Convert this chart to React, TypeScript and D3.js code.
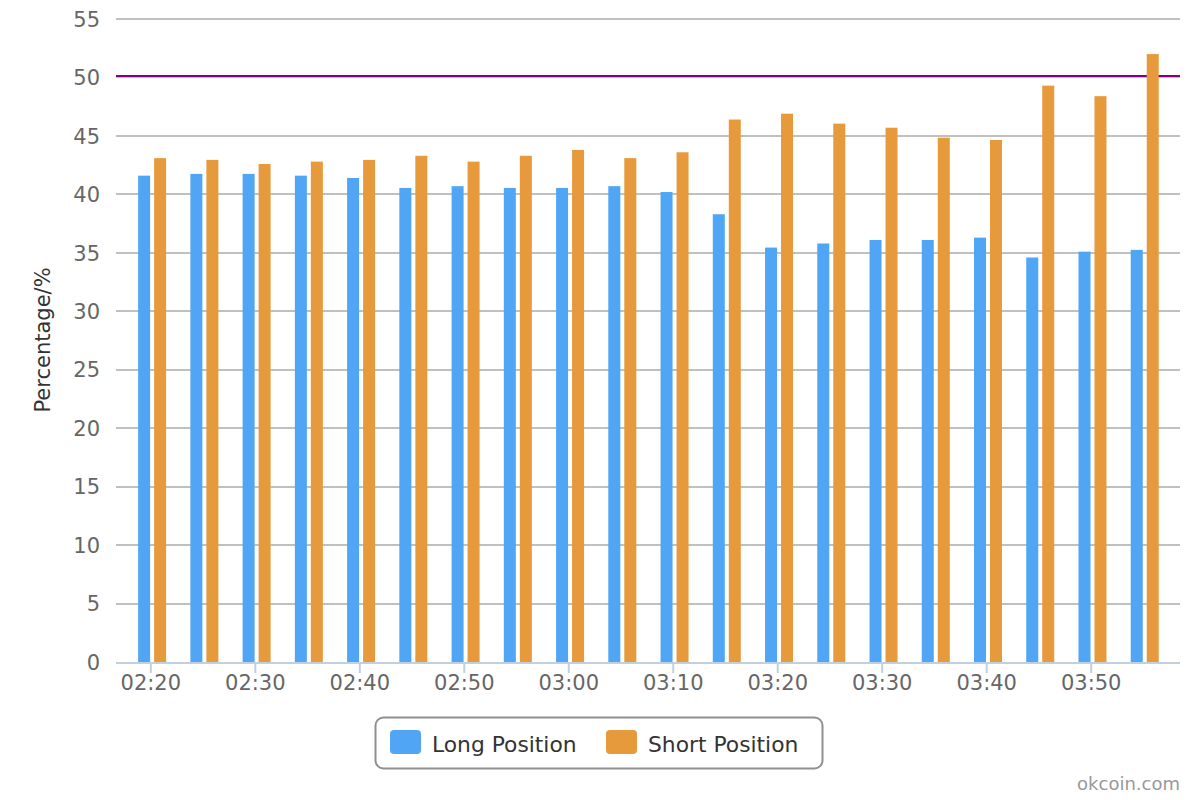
import React from "react";
import * as d3 from "d3";

const times = [
  "02:20", "02:25", "02:30", "02:35", "02:40", "02:45", "02:50", "02:55", "03:00", "03:05",
  "03:10", "03:15", "03:20", "03:25", "03:30", "03:35", "03:40", "03:45", "03:50", "03:55",
];
const longPosition = [
  41.6, 41.75, 41.75, 41.6, 41.4, 40.55, 40.7, 40.55, 40.55, 40.7,
  40.2, 38.3, 35.45, 35.8, 36.1, 36.1, 36.3, 34.6, 35.1, 35.25,
];
const shortPosition = [
  43.1, 42.95, 42.6, 42.8, 42.95, 43.3, 42.8, 43.3, 43.8, 43.1,
  43.6, 46.4, 46.9, 46.05, 45.7, 44.85, 44.65, 49.3, 48.4, 52.0,
];
const yTicks = [0, 5, 10, 15, 20, 25, 30, 35, 40, 45, 50, 55];
const seriesNames = ["Long Position", "Short Position"];
const colors = ["#50a6f5", "#e69a3c"];
const plotLineValue = 50;

const FONT = "'DejaVu Sans', sans-serif";

function parseTime(s: string) {
  const [h, m] = s.split(":").map(Number);
  return new Date(2017, 0, 1, h, m, 0);
}

export default function App() {
  const left = 116, right = 1180, top = 19, bottom = 662;
  const dates = times.map(parseTime);
  const x = d3
    .scaleTime()
    .domain([new Date(2017, 0, 1, 2, 16, 40), new Date(2017, 0, 1, 3, 58, 30)])
    .range([left, right]);
  const y = d3.scaleLinear().domain([0, 55]).range([bottom, top]);
  const xTicks = x.ticks(d3.timeMinute.every(10)!).filter((d) => d >= dates[0] && d <= dates[dates.length - 1]);
  const fmt = d3.timeFormat("%H:%M");
  const barW = 12;
  const offsets = [-12.7, 3.3];

  return (
    <svg width={1200} height={800} style={{ position: "absolute", left: 0, top: 0, background: "#fff" }} fontFamily={FONT}>
      <rect x={0} y={0} width={1200} height={800} fill="#fff" />
      {/* grid */}
      {yTicks.filter((v) => v > 0).map((v) => (
        <line key={v} x1={left} x2={right} y1={Math.round(y(v))} y2={Math.round(y(v))} stroke="#c0c0c0" strokeWidth={2} />
      ))}
      {/* plot line */}
      <line x1={left} x2={right} y1={y(plotLineValue) - 1.5} y2={y(plotLineValue) - 1.5} stroke="#800080" strokeWidth={2} />
      {/* bars */}
      {[longPosition, shortPosition].map((series, si) =>
        series.map((v, i) => (
          <rect
            key={si + "-" + i}
            x={x(dates[i]) + offsets[si]}
            y={y(v)}
            width={barW}
            height={y(0) - y(v)}
            fill={colors[si]}
          />
        ))
      )}
      {/* x axis */}
      <line x1={left} x2={right} y1={bottom + 1} y2={bottom + 1} stroke="#c0d0e0" strokeWidth={2} />
      {xTicks.map((d) => (
        <g key={+d}>
          <line x1={x(d)} x2={x(d)} y1={bottom} y2={bottom + 11} stroke="#c0d0e0" strokeWidth={2} />
          <text x={x(d)} y={690} textAnchor="middle" fontSize={21} fill="#666">
            {fmt(d)}
          </text>
        </g>
      ))}
      {/* y labels */}
      {yTicks.map((v) => (
        <text key={v} x={100} y={y(v)} dy="0.37em" textAnchor="end" fontSize={21} fill="#666">
          {v}
        </text>
      ))}
      <text transform="translate(50,340) rotate(-90)" textAnchor="middle" fontSize={21} fill="#333">
        Percentage/%
      </text>
      {/* legend */}
      <rect x={375.5} y={717.5} width={447} height={51} rx={8} fill="#fff" stroke="#909090" strokeWidth={2} />
      {seriesNames.map((name, i) => {
        const sx = [390, 606][i];
        return (
          <g key={name}>
            <rect x={sx} y={730} width={31} height={24} rx={4} fill={colors[i]} />
            <text x={sx + 42} y={752} fontSize={21.8} fill="#333">
              {name}
            </text>
          </g>
        );
      })}
      <text x={1180} y={790} textAnchor="end" fontSize={18} fill="#999">
        okcoin.com
      </text>
    </svg>
  );
}
